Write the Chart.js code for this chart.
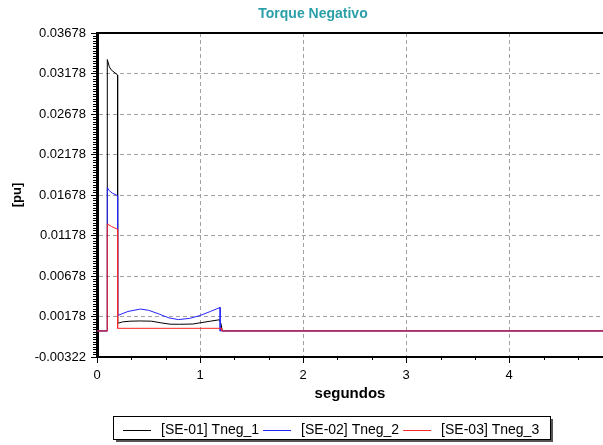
<!DOCTYPE html>
<html>
<head>
<meta charset="utf-8">
<script src="https://cdn.jsdelivr.net/npm/chart.js@4.4.0/dist/chart.umd.min.js"></script>
<style>
  html, body { margin: 0; padding: 0; background: #fff; }
</style>
</head>
<body>
<canvas id="torqueChart" width="603" height="445"></canvas>
<script>
// values
const chartTitle = 'Torque Negativo';
const seriesNames = ['[SE-01] Tneg_1', '[SE-02] Tneg_2', '[SE-03] Tneg_3'];
const seriesColors = ['#000000', '#2424ff', '#ff2424'];

const xTickValues = [0, 1, 2, 3, 4];
const yTickLabels = ['-0.00322', '0.00178', '0.00678', '0.01178', '0.01678', '0.02178', '0.02678', '0.03178', '0.03678'];

const tNeg1Time = [0, 0.1, 0.1, 0.12, 0.14, 0.2, 0.2, 0.25, 0.32, 0.42, 0.53, 0.62, 0.71, 0.8, 0.93, 1.0, 1.1, 1.19, 1.205, 1.215, 4.91];
const tNeg1 = [0, 0, 0.0335, 0.0326, 0.0322, 0.0316, 0.00094, 0.00112, 0.0012, 0.00123, 0.0012, 0.001, 0.00083, 0.00082, 0.00085, 0.001, 0.0012, 0.00138, 0.0008, 0, 0];

const tNeg2Time = [0, 0.1, 0.1, 0.12, 0.15, 0.2, 0.2, 0.3, 0.42, 0.5, 0.6, 0.7, 0.79, 0.9, 1.0, 1.1, 1.195, 1.195, 4.91];
const tNeg2 = [0, 0, 0.0177, 0.0173, 0.017, 0.0167, 0.0019, 0.0024, 0.0027, 0.00255, 0.0021, 0.0016, 0.0014, 0.00155, 0.0019, 0.0024, 0.0029, 0, 0];

const tNeg3Time = [0, 0.1, 0.1, 0.14, 0.2, 0.2, 1.21, 1.21, 4.91];
const tNeg3 = [0, 0, 0.0132, 0.0129, 0.01254, 0.00032, 0.00032, 0, 0];

const xMin = 0, xMax = 4.91;
const yMin = -0.00322, yMax = 0.03678;

const toPoints = (ts, vs) => ts.map((t, i) => ({ x: t, y: vs[i] }));

Chart.defaults.font.family = '"Liberation Sans", Arial, sans-serif';
Chart.defaults.color = '#000';

// small tick marks, top frame line, title and boxed legend
const decorations = {
    id: 'decorations',
    afterDraw(chart) {
        const { ctx, chartArea: a, scales: { x, y } } = chart;
        ctx.save();
        ctx.strokeStyle = '#000';
        ctx.lineWidth = 1;
        ctx.beginPath();
        for (let k = 1; k / 3 <= xMax; k++) {
            if (k % 3 === 0) continue;
            const px = Math.round(x.getPixelForValue(k / 3)) + 0.5;
            ctx.moveTo(px, a.bottom);
            ctx.lineTo(px, a.bottom + 3);
        }
        const minorStep = 0.005 / 16;
        for (let k = 1; yMin + k * minorStep < yMax; k++) {
            if (k % 16 === 0) continue;
            const py = Math.round(y.getPixelForValue(yMin + k * minorStep)) + 0.5;
            ctx.moveTo(a.left - 4, py);
            ctx.lineTo(a.left, py);
        }
        ctx.stroke();

        ctx.lineWidth = 2;
        ctx.beginPath();
        ctx.moveTo(a.left, a.top);
        ctx.lineTo(a.right, a.top);
        ctx.stroke();

        ctx.fillStyle = '#2a9fa8';
        ctx.font = 'bold 14px "Liberation Sans", Arial, sans-serif';
        ctx.textAlign = 'center';
        ctx.textBaseline = 'middle';
        ctx.fillText(chartTitle, 313, 14);

        // legend box with shadow
        const bx = 113, by = 416, bw = 437, bh = 23;
        ctx.fillStyle = '#555';
        ctx.fillRect(bx + 3, by + 3, bw, bh);
        ctx.fillStyle = '#fff';
        ctx.fillRect(bx, by, bw, bh);
        ctx.lineWidth = 1;
        ctx.strokeRect(bx + 0.5, by + 0.5, bw, bh);

        ctx.font = '14px "Liberation Sans", Arial, sans-serif';
        ctx.textAlign = 'left';
        let lx = 123;
        const ly = by + 14.5;
        chart.data.datasets.forEach(ds => {
            ctx.strokeStyle = ds.borderColor;
            ctx.beginPath();
            ctx.moveTo(lx, ly);
            ctx.lineTo(lx + 28, ly);
            ctx.stroke();
            ctx.fillStyle = '#000';
            ctx.fillText(ds.label, lx + 38, ly);
            lx += 38 + ctx.measureText(ds.label).width + 4;
        });
        ctx.restore();
    }
};

new Chart(document.getElementById('torqueChart'), {
    type: 'line',
    data: {
        datasets: [
            { label: seriesNames[0], data: toPoints(tNeg1Time, tNeg1), borderColor: seriesColors[0], order: 3 },
            { label: seriesNames[1], data: toPoints(tNeg2Time, tNeg2), borderColor: seriesColors[1], order: 2 },
            { label: seriesNames[2], data: toPoints(tNeg3Time, tNeg3), borderColor: seriesColors[2], order: 1 }
        ]
    },
    options: {
        responsive: false,
        animation: false,
        layout: { padding: { top: 33, bottom: 38, left: 0, right: 0 } },
        elements: {
            line: { borderWidth: 1, tension: 0, fill: false },
            point: { radius: 0 }
        },
        plugins: { legend: { display: false }, title: { display: false }, tooltip: { enabled: false } },
        scales: {
            x: {
                type: 'linear',
                min: xMin,
                max: xMax,
                afterBuildTicks: scale => { scale.ticks = xTickValues.map(v => ({ value: v })); },
                afterFit: scale => { scale.height = 50; },
                ticks: { font: { size: 13 }, padding: 5, maxRotation: 0, callback: v => String(v) },
                grid: { color: '#a0a0a0', lineWidth: 1, tickColor: '#000', tickLength: 6 },
                border: { color: '#000', width: 2, dash: [4, 3] },
                title: { display: true, text: 'segundos', font: { size: 15, weight: 'bold' }, padding: { top: 0, bottom: 4 } }
            },
            y: {
                min: yMin,
                max: yMax,
                afterBuildTicks: scale => { scale.ticks = yTickLabels.map(s => ({ value: parseFloat(s) })); },
                afterFit: scale => { scale.width = 97; },
                ticks: { font: { size: 13 }, padding: 5, callback: (v, i) => yTickLabels[i] },
                grid: { color: '#a0a0a0', lineWidth: 1, tickColor: '#000', tickLength: 6 },
                border: { color: '#000', width: 3, dash: [4, 3] },
                title: { display: true, text: '[pu]', font: { size: 13, weight: 'bold' }, padding: { top: 10, bottom: 0 } }
            }
        }
    },
    plugins: [decorations]
});
</script>
</body>
</html>
